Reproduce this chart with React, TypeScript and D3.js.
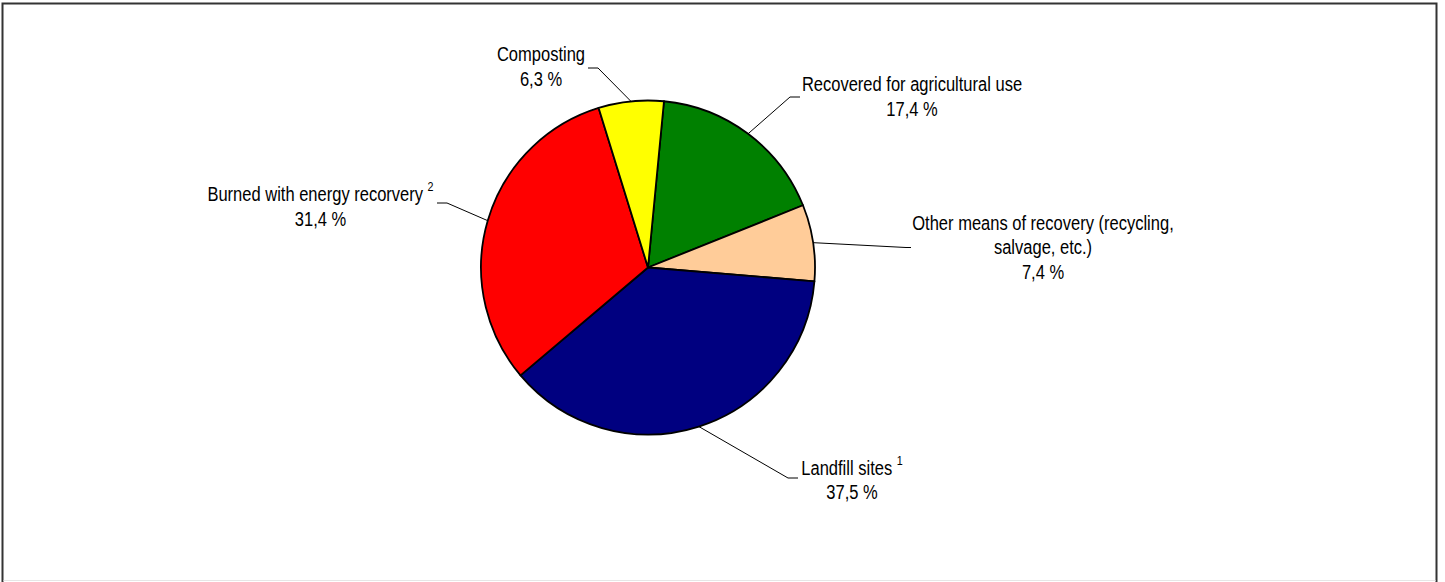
import React from "react";
import * as d3 from "d3";

const categories = [
  "Recovered for agricultural use",
  "Other means of recovery (recycling, salvage, etc.)",
  "Landfill sites",
  "Burned with energy recorvery",
  "Composting",
];
const values = [17.4, 7.4, 37.5, 31.4, 6.3];
const footnotes = ["", "", "1", "2", ""];
const labelLines = [
  ["Recovered for agricultural use"],
  ["Other means of recovery (recycling,", "salvage, etc.)"],
  ["Landfill sites"],
  ["Burned with energy recorvery"],
  ["Composting"],
];
const colors = ["#008000", "#FFCC99", "#000080", "#FF0000", "#FFFF00"];

// layout (not data): label anchor & leader elbow/end
const labelLayout = [
  { x: 912, y: 91.5, elbow: [790, 97], end: [800, 97] },
  { x: 1043, y: 230, elbow: [906, 247.5], end: [911, 247.5] },
  { x: 852, y: 475, elbow: [788, 478], end: [798, 478] },
  { x: 320.5, y: 201.5, elbow: [447, 203], end: [437, 203] },
  { x: 541, y: 61.5, elbow: [598, 68], end: [588, 68] },
];

const W = 1445;
const H = 582;
const cx = 648;
const cy = 267.5;
const R = 167;
const START = 0.0958;
const FONT = "'Liberation Sans', Arial, sans-serif";
const FS = 20;
const LH = 24.5;
const SX = 0.826;

const fmt = (v: number) => v.toFixed(1).replace(".", ",") + " %";

export default function App() {
  const data = categories.map((c, i) => ({ c, v: values[i], i }));
  const pie = d3
    .pie<any>()
    .sort(null)
    .value((d) => d.v)
    .startAngle(START)
    .endAngle(START + 2 * Math.PI);
  const arcs = pie(data);
  const arc = d3.arc<any>().innerRadius(0).outerRadius(R);

  return (
    <svg
      width={W}
      height={H}
      style={{ position: "absolute", left: 0, top: 0, background: "#fff" }}
    >
      <rect x={0} y={0} width={W} height={H} fill="#fff" />
      <path
        d={`M2.5,${H + 2} L2.5,3.5 L1436.5,3.5 L1436.5,${H + 2}`}
        fill="none"
        stroke="#333"
        strokeWidth={2}
      />
      <line x1={3.5} x2={1435.5} y1={580.5} y2={580.5} stroke="#e6e6e6" strokeWidth={1} />
      <g transform={`translate(${cx},${cy})`}>
        {arcs.map((a) => (
          <path
            key={a.data.c}
            d={arc(a) as string}
            fill={colors[a.data.i]}
            stroke="#000"
            strokeWidth={1.8}
            strokeLinejoin="round"
          />
        ))}
      </g>
      {arcs.map((a) => {
        const i = a.data.i;
        const mid = (a.startAngle + a.endAngle) / 2;
        const sx = cx + R * Math.sin(mid);
        const sy = cy - R * Math.cos(mid);
        const L = labelLayout[i];
        return (
          <polyline
            key={"l" + i}
            points={`${sx},${sy} ${L.elbow[0]},${L.elbow[1]} ${L.end[0]},${L.end[1]}`}
            fill="none"
            stroke="#000"
            strokeWidth={1}
          />
        );
      })}
      {arcs.map((a) => {
        const i = a.data.i;
        const L = labelLayout[i];
        const lines = labelLines[i];
        return (
          <text
            key={"t" + i}
            transform={`translate(${L.x},0) scale(${SX},1)`}
            fontFamily={FONT}
            fontSize={FS}
            fill="#000"
            textAnchor="middle"
          >
            {lines.map((ln, k) => (
              <tspan key={k} x={0} y={L.y + k * LH}>
                {ln}
                {k === 0 && footnotes[i] ? " " : ""}
                {k === 0 && footnotes[i] ? (
                  <tspan fontSize={13} dy={-10}>
                    {footnotes[i]}
                  </tspan>
                ) : null}
              </tspan>
            ))}
            <tspan x={0} y={L.y + lines.length * LH}>
              {fmt(values[i])}
            </tspan>
          </text>
        );
      })}
    </svg>
  );
}
